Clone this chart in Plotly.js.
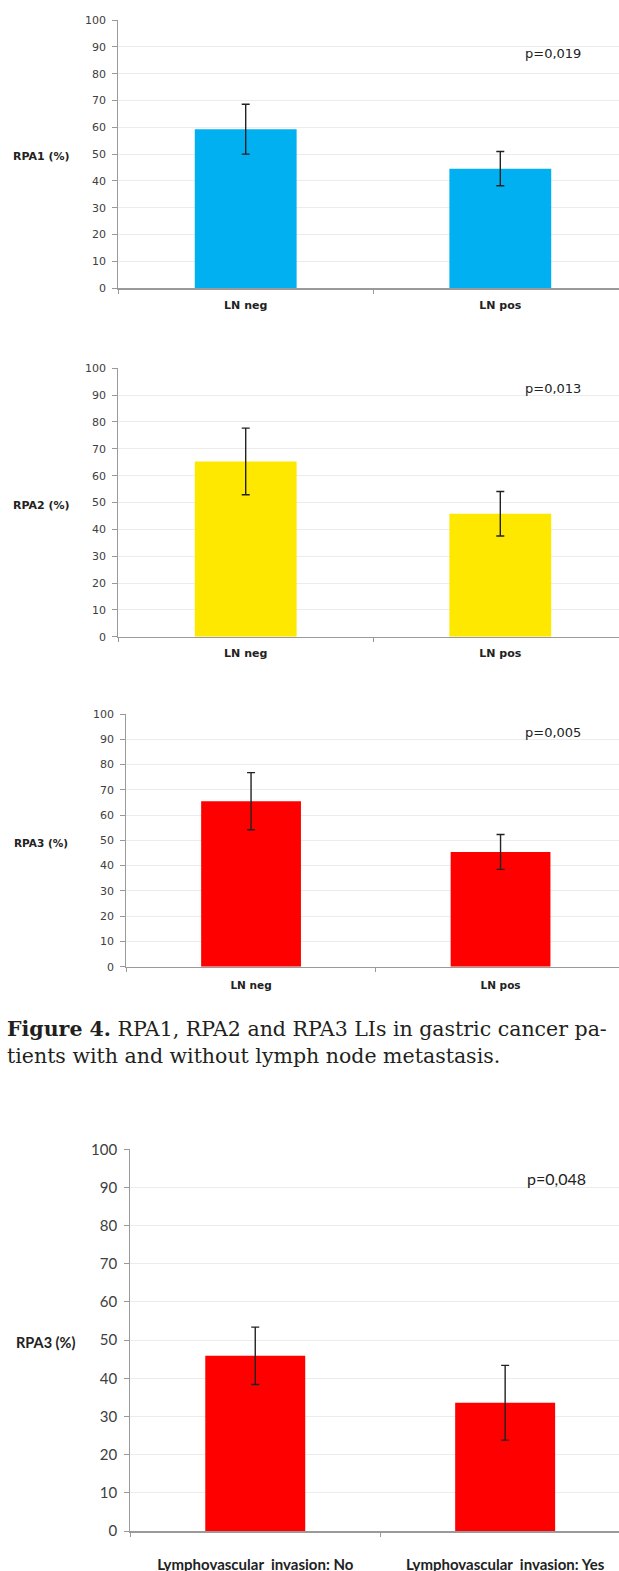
<!DOCTYPE html>
<html>
<head>
<meta charset="utf-8">
<script src="https://cdn.plot.ly/plotly-3.0.1.min.js"></script>
<style>
html,body{margin:0;padding:0;background:#fff;}
#chart{width:619px;height:1571px;}
</style>
</head>
<body>
<div id="chart"></div>
<script>
// ---- data ----
const categoriesLN = ['LN neg', 'LN pos'];
const categoriesLVI = ['Lymphovascular  invasion: No', 'Lymphovascular  invasion: Yes'];

const rpa1LN = [59.3, 44.6];
const rpa1LNErr = [9.3, 6.4];
const rpa2LN = [65.3, 45.8];
const rpa2LNErr = [12.4, 8.3];
const rpa3LN = [65.5, 45.4];
const rpa3LNErr = [11.3, 6.9];
const rpa3LVI = [45.9, 33.6];
const rpa3LVIErr = [7.5, 9.8];

const pValues = ['p=0,019', 'p=0,013', 'p=0,005', 'p=0,048'];
const yLabels = ['RPA1 (%)', 'RPA2 (%)', 'RPA3 (%)', 'RPA3 (%)'];
const yTickVals = [0, 10, 20, 30, 40, 50, 60, 70, 80, 90, 100];
const captionLine1 = '<b>Figure 4.</b> RPA1, RPA2 and RPA3 LIs in gastric cancer pa-';
const captionLine2 = 'tients with and without lymph node metastasis.';

// ---- styling / layout ----
const W = 619, H = 1571;
const smallFont = '"DejaVu Sans", sans-serif';
const bigFont = 'Lato, sans-serif';
const panels = [
  {cats: categoriesLN, y: rpa1LN, err: rpa1LNErr, color: '#00B0F0', top: 20, bottom: 288.3, left: 118.4, catW: 254.6,
   fam: smallFont, tickFont: 11, catFont: 11, labFont: 11, pFont: 13, labX: 41.5, labY: 49, pX: 552.5, pY: 87.6, catStand: 6},
  {cats: categoriesLN, y: rpa2LN, err: rpa2LNErr, color: '#FFE800', top: 368.3, bottom: 636.7, left: 118.4, catW: 254.6,
   fam: smallFont, tickFont: 11, catFont: 11, labFont: 11, pFont: 13, labX: 41.5, labY: 49, pX: 552.5, pY: 92.5, catStand: 6},
  {cats: categoriesLN, y: rpa3LN, err: rpa3LNErr, color: '#FF0000', top: 714, bottom: 966.7, left: 126.3, catW: 249.5,
   fam: smallFont, tickFont: 11, catFont: 10.5, labFont: 10.5, pFont: 13, labX: 41, labY: 49, pX: 552.5, pY: 92.6, catStand: 8},
  {cats: categoriesLVI, y: rpa3LVI, err: rpa3LVIErr, color: '#FF0000', top: 1149.3, bottom: 1531, left: 130.3, catW: 249.9,
   fam: bigFont, tickFont: 15, catFont: 15, labFont: 14.5, pFont: 16, labX: 45.5, labY: 49.4, pX: 556, pY: 92.3, catStand: 19}
];

const data = [];
const layout = {
  width: W, height: H,
  margin: {l: 0, r: 0, t: 0, b: 0},
  paper_bgcolor: '#ffffff',
  plot_bgcolor: '#ffffff',
  showlegend: false,
  font: {family: smallFont, color: '#404040'},
  annotations: []
};

panels.forEach((p, i) => {
  const n = i === 0 ? '' : String(i + 1);
  data.push({
    type: 'bar',
    x: p.cats,
    y: p.y,
    xaxis: 'x' + n,
    yaxis: 'y' + n,
    width: 0.4,
    marker: {color: p.color, line: {width: 0}},
    error_y: {type: 'data', array: p.err, visible: true, color: '#222222', thickness: 1.4, width: 4},
    hoverinfo: 'none'
  });
  const rightEnd = -0.5 + (W - p.left) / p.catW;
  layout['xaxis' + n] = {
    domain: [p.left / W, 1],
    anchor: 'y' + n,
    type: 'category',
    range: [-0.5, rightEnd],
    tickson: 'boundaries',
    ticks: 'outside',
    ticklen: 4,
    tickcolor: '#999999',
    showline: true,
    linecolor: '#9a9a9a',
    linewidth: 1.5,
    showgrid: false,
    zeroline: false,
    tickfont: {family: p.fam, size: p.catFont, color: '#222222', weight: 'bold'},
    ticklabelstandoff: p.catStand,
    fixedrange: true
  };
  layout['yaxis' + n] = {
    domain: [1 - p.bottom / H, 1 - p.top / H],
    anchor: 'x' + n,
    range: [0, 100],
    tickvals: yTickVals,
    ticks: 'outside',
    ticklen: 5,
    tickcolor: '#999999',
    showline: true,
    linecolor: '#9a9a9a',
    linewidth: 1.2,
    showgrid: true,
    gridcolor: '#ececec',
    gridwidth: 1,
    zeroline: false,
    tickfont: {family: p.fam, size: p.tickFont, color: '#404040'},
    ticklabelstandoff: 4,
    fixedrange: true
  };
  layout.annotations.push({
    xref: 'paper', yref: 'y' + n,
    x: p.labX / W, y: p.labY,
    text: '<b>' + yLabels[i] + '</b>',
    showarrow: false,
    xanchor: 'center', yanchor: 'middle',
    font: {family: p.fam, size: p.labFont, color: '#222222'}
  });
  layout.annotations.push({
    xref: 'paper', yref: 'y' + n,
    x: p.pX / W, y: p.pY,
    text: pValues[i],
    showarrow: false,
    xanchor: 'center', yanchor: 'middle',
    font: {family: p.fam, size: p.pFont, color: '#222222'}
  });
});

layout.annotations.push({
  xref: 'paper', yref: 'paper',
  x: 5 / W, y: 1 - 1029 / H,
  text: captionLine1,
  showarrow: false, xanchor: 'left', yanchor: 'middle',
  font: {family: '"DejaVu Serif", serif', size: 20.5, color: '#231f20'}
});
layout.annotations.push({
  xref: 'paper', yref: 'paper',
  x: 5 / W, y: 1 - 1056 / H,
  text: captionLine2,
  showarrow: false, xanchor: 'left', yanchor: 'middle',
  font: {family: '"DejaVu Serif", serif', size: 20.5, color: '#231f20'}
});

Plotly.newPlot('chart', data, layout, {staticPlot: true, displayModeBar: false});
</script>
</body>
</html>
